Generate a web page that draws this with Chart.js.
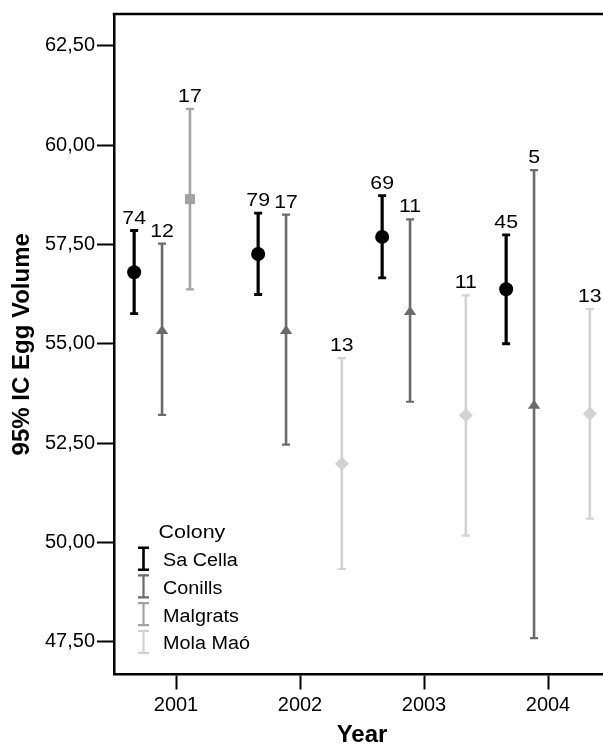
<!DOCTYPE html>
<html>
<head>
<meta charset="utf-8">
<script src="https://cdn.jsdelivr.net/npm/chart.js@4"></script>
<style>
  html, body { margin: 0; padding: 0; background: #fff; overflow: hidden; }
  #wrap { position: relative; width: 610px; height: 745px; }
</style>
</head>
<body>
<div id="wrap"><canvas id="chart"></canvas></div>
<script>
// Years on the category axis
const years = ['2001', '2002', '2003', '2004'];
const colonyNames = ['Sa Cella', 'Conills', 'Malgrats', 'Mola Maó'];

// Mean egg volume with 95% confidence bounds and sample size, per colony
const saCellaMean = [56.80, 57.26, 57.69, 56.37];
const saCellaLow  = [55.76, 56.24, 56.66, 55.00];
const saCellaHigh = [57.85, 58.29, 58.73, 57.74];
const saCellaN    = [74, 79, 69, 45];

const conillsMean = [55.36, 55.36, 55.84, 53.48];
const conillsLow  = [53.21, 52.46, 53.54, 47.59];
const conillsHigh = [57.52, 58.25, 58.13, 59.37];
const conillsN    = [12, 17, 11, 5];

const malgratsMean = [58.64, null, null, null];
const malgratsLow  = [56.37, null, null, null];
const malgratsHigh = [60.91, null, null, null];
const malgratsN    = [17, null, null, null];

const molaMaoMean = [null, 51.98, 53.20, 53.24];
const molaMaoLow  = [null, 49.33, 50.17, 50.60];
const molaMaoHigh = [null, 54.64, 56.22, 55.88];
const molaMaoN    = [null, 13, 11, 13];

// Y axis tick values
const yTickValues = [47.5, 50, 52.5, 55, 57.5, 60, 62.5];

const FONT = "'Liberation Sans', Arial, Helvetica, sans-serif";
Chart.defaults.font.family = FONT;
Chart.defaults.color = '#000';

function ranges(low, high) {
  return low.map((l, i) => (l == null ? null : [l, high[i]]));
}

function series(label, low, high, mean, n, color, marker, stem, capW) {
  return {
    label: label,
    data: ranges(low, high),
    means: mean,
    counts: n,
    marker: marker,
    capWidth: capW,
    backgroundColor: color,
    borderWidth: 0,
    categoryPercentage: 0.9,
    barPercentage: stem / 27.9
  };
}

const datasets = [
  series(colonyNames[0], saCellaLow, saCellaHigh, saCellaMean, saCellaN, '#000000', 'circle', 3.2, 2.8),
  series(colonyNames[1], conillsLow, conillsHigh, conillsMean, conillsN, '#6b6b6b', 'triangle', 2.6, 2.2),
  series(colonyNames[2], malgratsLow, malgratsHigh, malgratsMean, malgratsN, '#a3a3a3', 'square', 2.6, 2.2),
  series(colonyNames[3], molaMaoLow, molaMaoHigh, molaMaoMean, molaMaoN, '#d2d2d2', 'diamond', 2.6, 2.2)
];

// Text drawn slightly widened, as in the printed figure
function wideText(ctx, text, x, y, size, align, stretch) {
  ctx.save();
  ctx.font = size + 'px ' + FONT;
  ctx.textAlign = align;
  ctx.textBaseline = 'alphabetic';
  ctx.translate(x, y);
  ctx.scale(stretch, 1);
  ctx.fillText(text, 0, 0);
  ctx.restore();
}

function drawMarker(ctx, type, x, y, color) {
  ctx.fillStyle = color;
  ctx.beginPath();
  if (type === 'circle') {
    ctx.arc(x, y, 7, 0, Math.PI * 2);
  } else if (type === 'triangle') {
    ctx.moveTo(x, y - 4.5);
    ctx.lineTo(x + 6.2, y + 4.5);
    ctx.lineTo(x - 6.2, y + 4.5);
    ctx.closePath();
  } else if (type === 'square') {
    ctx.rect(x - 5, y - 5, 10, 10);
  } else if (type === 'diamond') {
    ctx.moveTo(x, y - 7);
    ctx.lineTo(x + 7, y);
    ctx.lineTo(x, y + 7);
    ctx.lineTo(x - 7, y);
    ctx.closePath();
  }
  ctx.fill();
}

// Caps, mean markers and sample sizes on top of each interval
const errorBarPlugin = {
  id: 'errorBarDecor',
  afterDatasetsDraw(chart) {
    const ctx = chart.ctx;
    const yScale = chart.scales.y;
    chart.data.datasets.forEach((ds, di) => {
      const meta = chart.getDatasetMeta(di);
      meta.data.forEach((bar, i) => {
        const r = ds.data[i];
        if (r == null) return;
        const x = bar.x;
        const yLo = yScale.getPixelForValue(r[0]);
        const yHi = yScale.getPixelForValue(r[1]);
        ctx.save();
        ctx.strokeStyle = ds.backgroundColor;
        ctx.lineWidth = ds.capWidth;
        ctx.beginPath();
        ctx.moveTo(x - 4, yHi); ctx.lineTo(x + 4, yHi);
        ctx.moveTo(x - 4, yLo); ctx.lineTo(x + 4, yLo);
        ctx.stroke();
        drawMarker(ctx, ds.marker, x, yScale.getPixelForValue(ds.means[i]), ds.backgroundColor);
        ctx.fillStyle = '#000';
        wideText(ctx, String(ds.counts[i]), x, yHi - 7, 18.5, 'center', 1.15);
        ctx.restore();
      });
    });
  }
};

// Frame line along the top of the plot area
const frameTopPlugin = {
  id: 'frameTop',
  afterDraw(chart) {
    const { ctx, chartArea } = chart;
    ctx.save();
    ctx.strokeStyle = '#000';
    ctx.lineWidth = 2.5;
    ctx.beginPath();
    ctx.moveTo(chartArea.left - 1.25, chartArea.top);
    ctx.lineTo(chartArea.right + 5, chartArea.top);
    ctx.stroke();
    ctx.restore();
  }
};

// Legend box inside the plot area, lower left
const colonyLegendPlugin = {
  id: 'colonyLegend',
  afterDraw(chart) {
    const { ctx, chartArea } = chart;
    const x0 = chartArea.left;
    ctx.save();
    ctx.fillStyle = '#000';
    wideText(ctx, 'Colony', x0 + 44.5, 538, 18.5, 'left', 1.16);
    chart.data.datasets.forEach((ds, i) => {
      const base = 566.2 + i * 27.7;
      const cy = base - 7.5;
      const ix = x0 + 29.5;
      ctx.strokeStyle = ds.backgroundColor;
      ctx.lineWidth = i === 0 ? 2.6 : 2.2;
      ctx.beginPath();
      ctx.moveTo(ix, cy - 11); ctx.lineTo(ix, cy + 11);
      ctx.moveTo(ix - 5.5, cy - 11); ctx.lineTo(ix + 5.5, cy - 11);
      ctx.moveTo(ix - 5.5, cy + 11); ctx.lineTo(ix + 5.5, cy + 11);
      ctx.stroke();
      ctx.fillStyle = '#000';
      wideText(ctx, ds.label, x0 + 49, base, 18, 'left', 1.1);
    });
    ctx.restore();
  }
};

new Chart(document.getElementById('chart'), {
  type: 'bar',
  data: { labels: years, datasets: datasets },
  plugins: [errorBarPlugin, frameTopPlugin, colonyLegendPlugin],
  options: {
    responsive: true,
    maintainAspectRatio: false,
    animation: false,
    layout: { padding: { top: 13.3, left: 0, right: 0, bottom: 0 } },
    plugins: {
      legend: { display: false },
      tooltip: { enabled: false }
    },
    scales: {
      x: {
        type: 'category',
        offset: true,
        afterFit: (s) => { s.height = 70.5; },
        grid: {
          display: true, offset: false, drawOnChartArea: false, drawTicks: true,
          tickLength: 15, tickWidth: 2, tickColor: '#000', color: '#000'
        },
        border: { display: true, color: '#000', width: 2.5 },
        ticks: { font: { size: 20 }, color: '#000', padding: 4 },
        title: {
          display: true, text: 'Year', color: '#000',
          font: { size: 24, weight: 'bold', lineHeight: 0.8 },
          padding: { top: 0, bottom: 0 }
        }
      },
      y: {
        type: 'linear',
        min: 46.675,
        max: 63.3,
        afterFit: (s) => { s.width = 114; },
        afterBuildTicks: (s) => { s.ticks = yTickValues.map(v => ({ value: v })); },
        grid: {
          display: true, drawOnChartArea: false, drawTicks: true,
          tickLength: 17, tickWidth: 2, tickColor: '#000', color: '#000'
        },
        border: { display: true, color: '#000', width: 2.5 },
        ticks: {
          font: { size: 20 }, color: '#000', padding: 2,
          callback: (v) => Number(v).toFixed(2).replace('.', ',')
        },
        title: {
          display: true, text: '95% IC Egg Volume', color: '#000',
          font: { size: 24, weight: 'bold', lineHeight: 1.2 },
          padding: { top: 7.6, bottom: 0 }
        }
      }
    }
  }
});
</script>
</body>
</html>
